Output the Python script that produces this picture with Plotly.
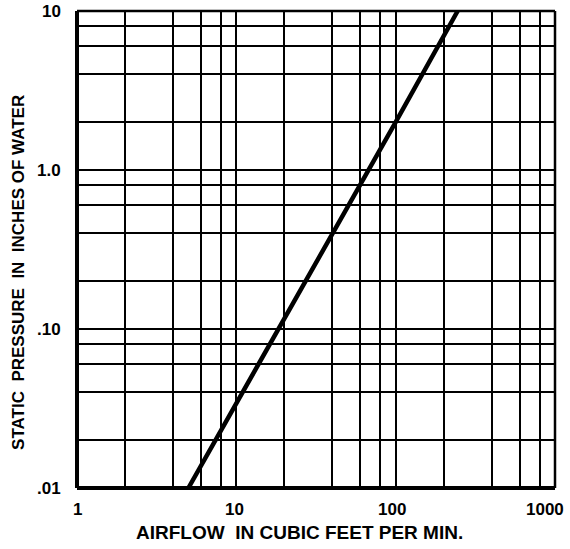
import math
import plotly.graph_objects as go

# Fan curve: static pressure vs. airflow (log-log)
airflow_cfm = [5, 10, 100, 245]
pressure_in_water = [0.01, 0.034, 2.0, 10]

# Grid values (1-2-4-6-8 per decade)
x_grid = [1, 2, 4, 6, 8, 10, 20, 40, 60, 80, 100, 200, 400, 600, 800, 1000]
y_grid = [0.01, 0.02, 0.04, 0.06, 0.08, 0.1, 0.2, 0.4, 0.6, 0.8,
          1, 2, 4, 6, 8, 10]

x_tick_vals = [1, 10, 100, 1000]
x_tick_text = ["1", "10", "100", "1000"]
y_tick_vals = [0.01, 0.1, 1, 10]
y_tick_text = [".01", ".10", "1.0", "10"]

FONT = "Liberation Sans"

fig = go.Figure()
fig.add_trace(go.Scatter(
    x=airflow_cfm, y=pressure_in_water, mode="lines",
    line=dict(color="black", width=4.5), showlegend=False,
    hoverinfo="skip",
))

fig.update_xaxes(
    type="log", range=[0, 3],
    tickvals=x_grid, ticktext=[""] * len(x_grid),
    showgrid=True, gridcolor="black", gridwidth=2,
    zeroline=False, showline=False, ticks="",
)
fig.update_yaxes(
    type="log", range=[-2, 1],
    tickvals=y_grid, ticktext=[""] * len(y_grid),
    showgrid=True, gridcolor="black", gridwidth=2,
    zeroline=False, showline=False, ticks="",
)

# Frame: heavy left/bottom, lighter top/right
frame = [
    dict(x0=0, x1=0, y0=0, y1=1, w=4),
    dict(x0=0, x1=1, y0=0, y1=0, w=4),
    dict(x0=0, x1=1, y0=1, y1=1, w=2.5),
    dict(x0=1, x1=1, y0=0, y1=1, w=2.5),
]
for s in frame:
    fig.add_shape(type="line", xref="x domain", yref="y domain",
                  x0=s["x0"], x1=s["x1"], y0=s["y0"], y1=s["y1"],
                  line=dict(color="black", width=s["w"]))

# Tick labels
x_label_shift = [0, -2, -4, -10]
for v, t, sh in zip(x_tick_vals, x_tick_text, x_label_shift):
    fig.add_annotation(x=math.log10(v), y=0, xref="x", yref="y domain",
                       text=f"<b>{t}</b>", showarrow=False, yanchor="top",
                       yshift=-10, xshift=sh,
                       font=dict(family=FONT, size=17, color="black"))
for v, t in zip(y_tick_vals, y_tick_text):
    fig.add_annotation(x=0, y=math.log10(v), xref="x domain", yref="y",
                       text=f"<b>{t}</b>", showarrow=False, xanchor="right",
                       xshift=-14,
                       font=dict(family=FONT, size=17, color="black"))

# Axis titles
fig.add_annotation(x=0.465, y=0, xref="x domain", yref="y domain",
                   text="<b>AIRFLOW  IN CUBIC FEET PER MIN.</b>",
                   showarrow=False, yanchor="top", yshift=-32,
                   font=dict(family=FONT, size=19, color="black"))
fig.add_annotation(x=0, y=0.452, xref="x domain", yref="y domain",
                   text="<b>STATIC  PRESSURE  IN  INCHES OF WATER</b>",
                   showarrow=False, textangle=-90, xanchor="right",
                   yanchor="middle", xshift=-47,
                   font=dict(family=FONT, size=17, color="black"))

fig.update_layout(
    width=570, height=549,
    margin=dict(l=77, r=15, t=11, b=61),
    paper_bgcolor="white", plot_bgcolor="white",
)

fig.write_html("out.html")
